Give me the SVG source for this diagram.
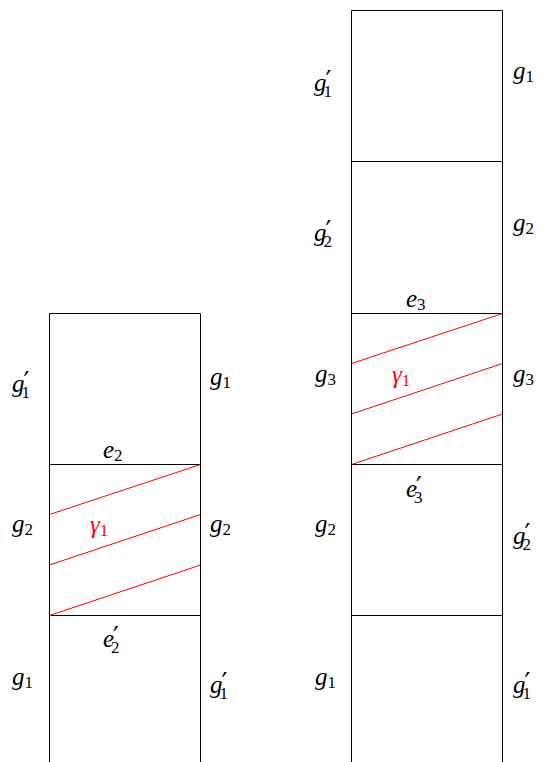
<svg xmlns="http://www.w3.org/2000/svg" width="543" height="762" viewBox="0 0 543 762">
<style>
.b{stroke:#000;stroke-width:1;fill:none}
.r{stroke:#f00;stroke-width:1;fill:none}
text{font-family:"Liberation Serif","DejaVu Serif",serif;font-size:25px;font-style:italic;fill:#000}
.red{fill:#f00}
.s{font-size:17px;font-style:normal}
.p{font-family:"DejaVu Serif",serif;font-style:normal;font-size:26px}
</style>
<rect width="543" height="762" fill="#fff"/>
<g id="left-column">
<path class="b" d="M49.5,762 V313.5 H200.5 V762 M49.5,464.5 H200.5 M49.5,615.5 H200.5"/>
</g>
<g id="right-column">
<path class="b" d="M351.5,762 V10.5 H502.5 V762 M351.5,161.5 H502.5 M351.5,313.5 H502.5 M351.5,464.5 H502.5 M351.5,615.5 H502.5"/>
</g>
<g id="connectors">
<path class="r" d="M49.5,514.5 L200.5,464.5 M49.5,565 L200.5,514.5 M49.5,615.5 L200.5,565"/>
<path class="r" d="M351.5,363.5 L502.5,313.5 M351.5,414 L502.5,363.5 M351.5,464.5 L502.5,414"/>
</g>
<g id="left-labels">
<text x="12" y="392">g<tspan class="p" dx="-1" dy="-2">′</tspan><tspan class="s" dx="-8" dy="8">1</tspan></text>
<text x="210" y="385">g<tspan class="s" dy="3">1</tspan></text>
<text x="103" y="458">e<tspan class="s" dy="3">2</tspan></text>
<text x="12" y="532">g<tspan class="s" dy="3">2</tspan></text>
<text x="210" y="532">g<tspan class="s" dy="3">2</tspan></text>
<text class="red" x="90" y="533">γ<tspan class="s" dy="3">1</tspan></text>
<text x="103" y="647">e<tspan class="p" dx="-1" dy="-2">′</tspan><tspan class="s" dx="-8" dy="8">2</tspan></text>
<text x="12" y="685">g<tspan class="s" dy="3">1</tspan></text>
<text x="210" y="693">g<tspan class="p" dx="-1" dy="-2">′</tspan><tspan class="s" dx="-8" dy="8">1</tspan></text>
</g>
<g id="right-labels">
<text x="314" y="91">g<tspan class="p" dx="-1" dy="-2">′</tspan><tspan class="s" dx="-8" dy="8">1</tspan></text>
<text x="513" y="79">g<tspan class="s" dy="3">1</tspan></text>
<text x="314" y="241">g<tspan class="p" dx="-1" dy="-2">′</tspan><tspan class="s" dx="-8" dy="8">2</tspan></text>
<text x="513" y="231">g<tspan class="s" dy="3">2</tspan></text>
<text x="406" y="307">e<tspan class="s" dy="3">3</tspan></text>
<text x="315" y="382">g<tspan class="s" dy="3">3</tspan></text>
<text class="red" x="392" y="383">γ<tspan class="s" dy="3">1</tspan></text>
<text x="513" y="382">g<tspan class="s" dy="3">3</tspan></text>
<text x="406" y="497">e<tspan class="p" dx="-1" dy="-2">′</tspan><tspan class="s" dx="-8" dy="8">3</tspan></text>
<text x="315" y="532">g<tspan class="s" dy="3">2</tspan></text>
<text x="513" y="544">g<tspan class="p" dx="-1" dy="-2">′</tspan><tspan class="s" dx="-8" dy="8">2</tspan></text>
<text x="315" y="685">g<tspan class="s" dy="3">1</tspan></text>
<text x="513" y="693">g<tspan class="p" dx="-1" dy="-2">′</tspan><tspan class="s" dx="-8" dy="8">1</tspan></text>
</g>
</svg>
